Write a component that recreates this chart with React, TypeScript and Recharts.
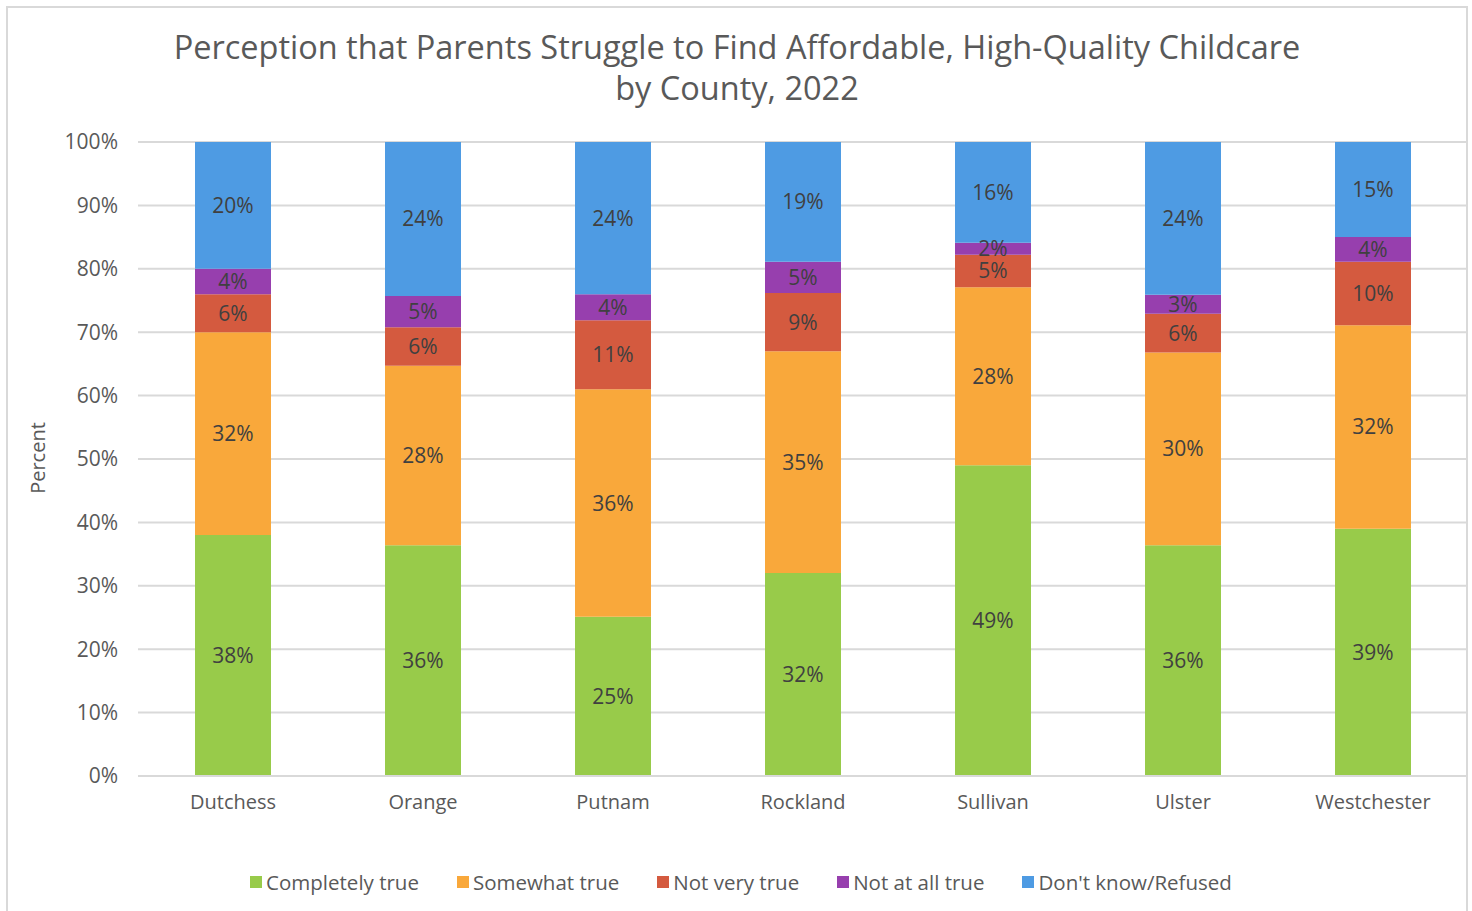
import { Bar, BarChart, CartesianGrid, LabelList, XAxis, YAxis } from "recharts";

const counties = ["Dutchess", "Orange", "Putnam", "Rockland", "Sullivan", "Ulster", "Westchester"];
const completelyTrue = [38, 36.4, 25.1, 32, 49, 36.4, 39];
const somewhatTrue = [32, 28.3, 35.9, 35, 28.1, 30.4, 32.1];
const notVeryTrue = [6, 6.1, 10.9, 9.2, 5.1, 6.1, 10];
const notAtAllTrue = [4, 4.9, 4.1, 4.9, 1.9, 3, 3.9];
const dontKnow = [20, 24.3, 24, 18.9, 15.9, 24.1, 15];
const yTicks = [0, 10, 20, 30, 40, 50, 60, 70, 80, 90, 100];

const series = [
  { key: "completely", name: "Completely true", color: "#98CB4A", values: completelyTrue },
  { key: "somewhat", name: "Somewhat true", color: "#F9A83B", values: somewhatTrue },
  { key: "notVery", name: "Not very true", color: "#D45A3F", values: notVeryTrue },
  { key: "notAtAll", name: "Not at all true", color: "#973FAE", values: notAtAllTrue },
  { key: "dontKnow", name: "Don't know/Refused", color: "#4E9BE3", values: dontKnow },
];

const data = counties.map((county, i) => {
  const row: Record<string, string | number> = { county };
  series.forEach((s) => {
    row[s.key] = s.values[i];
  });
  return row;
});

const FONT = "'Open Sans', 'DejaVu Sans', sans-serif";

export default function App() {
  return (
    <div style={{ position: "absolute", left: 0, top: 0, width: 1472, height: 911, fontFamily: FONT, background: "#fff" }}>
      <div
        style={{
          position: "absolute",
          left: 6,
          top: 6,
          width: 1462,
          height: 910,
          border: "2px solid #d9d9d9",
          boxSizing: "border-box",
        }}
      />
      <div
        style={{
          position: "absolute",
          left: 0,
          top: 26,
          width: 1474,
          textAlign: "center",
          fontSize: 32.5,
          lineHeight: "41px",
          color: "#595959",
        }}
      >
        Perception that Parents Struggle to Find Affordable, High-Quality Childcare
        <br />
        by County, 2022
      </div>
      <div
        style={{
          position: "absolute",
          left: 37,
          top: 458,
          transform: "translate(-50%, -50%) rotate(-90deg)",
          fontSize: 20,
          color: "#595959",
          whiteSpace: "nowrap",
        }}
      >
        Percent
      </div>
      <div style={{ position: "absolute", left: 0, top: 0 }}>
        <BarChart
          width={1472}
          height={911}
          data={data}
          margin={{ top: 142, right: 4, bottom: 105, left: 58 }}
          barCategoryGap="30%"
        >
          <CartesianGrid vertical={false} stroke="#d9d9d9" strokeWidth={2} />
          <XAxis
            dataKey="county"
            height={30}
            axisLine={{ stroke: "#d9d9d9", strokeWidth: 2 }}
            tickLine={false}
            tickSize={0}
            tickMargin={19}
            tick={{ fill: "#595959", fontSize: 20, fontFamily: FONT }}
          />
          <YAxis
            width={80}
            domain={[0, 100]}
            ticks={yTicks}
            tickFormatter={(v: number) => `${v}%`}
            axisLine={false}
            tickLine={false}
            tickSize={0}
            tickMargin={20}
            tick={{ fill: "#595959", fontSize: 21, fontFamily: FONT }}
          />
          {series.map((s) => (
            <Bar key={s.key} dataKey={s.key} name={s.name} stackId="a" fill={s.color} isAnimationActive={false}>
              <LabelList
                dataKey={s.key}
                position="center"
                formatter={(v: number) => `${Math.round(v)}%`}
                fill="#404040"
                fontSize={21}
                fontFamily={FONT}
              />
            </Bar>
          ))}
        </BarChart>
      </div>
      <div
        style={{
          position: "absolute",
          left: 0,
          top: 868,
          width: 1482,
          display: "flex",
          justifyContent: "center",
          gap: 38,
          fontSize: 20.5,
          color: "#595959",
          lineHeight: "28px",
        }}
      >
        {series.map((s) => (
          <div key={s.key} style={{ display: "flex", alignItems: "center", gap: 4 }}>
            <span style={{ width: 12, height: 12, background: s.color, display: "inline-block" }} />
            <span>{s.name}</span>
          </div>
        ))}
      </div>
    </div>
  );
}
